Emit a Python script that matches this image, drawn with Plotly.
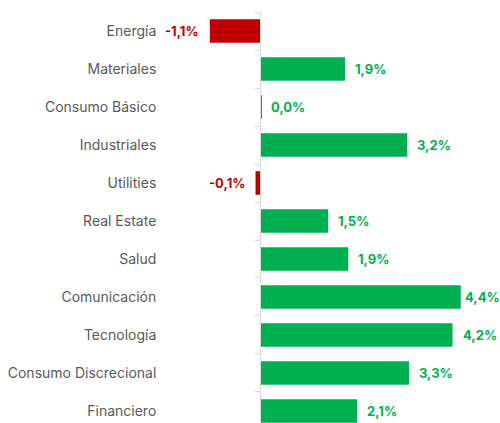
import plotly.graph_objects as go

categories = ["Energía", "Materiales", "Consumo Básico", "Industriales", "Utilities",
              "Real Estate", "Salud", "Comunicación", "Tecnología",
              "Consumo Discrecional", "Financiero"]
values = [-1.10, 1.86, 0.03, 3.22, -0.10, 1.49, 1.93, 4.39, 4.21, 3.26, 2.12]

GREEN = "#00B050"
RED = "#C00000"
colors = [GREEN if v >= 0 else RED for v in values]

x_range = [-2.19, 5.03]
zero_pos = (0 - x_range[0]) / (x_range[1] - x_range[0])

fig = go.Figure()
fig.add_trace(go.Bar(
    x=values, y=categories, orientation="h",
    marker=dict(color=colors, line=dict(width=0)),
    hoverinfo="skip", showlegend=False,
))

vmax = max(values)
annotations = []
for c, v, col in zip(categories, values, colors):
    txt = f"{v:.1f}".replace(".", ",") + "%"
    if v >= 0:
        shift = 3 if v == vmax else 9
    else:
        shift = -10
    annotations.append(dict(
        x=v, y=c, xref="x", yref="y", text=f"<b>{txt}</b>",
        showarrow=False, xanchor="left" if v >= 0 else "right",
        xshift=shift, borderpad=0,
        font=dict(family="Inter", size=13, color=col),
    ))

fig.update_layout(
    width=500, height=423,
    margin=dict(l=160, r=10, t=12, b=0),
    paper_bgcolor="white", plot_bgcolor="white",
    bargap=0.38,
    font=dict(family="Inter", size=14, color="#595959"),
    annotations=annotations,
    xaxis=dict(range=x_range, visible=False, showgrid=False, zeroline=False),
    yaxis=dict(
        type="category", categoryorder="array", categoryarray=categories,
        range=[10.316, -0.5], anchor="free", position=zero_pos,
        showline=True, linecolor="#D9D9D9", linewidth=1,
        ticks="outside", tickson="boundaries", ticklen=5, tickcolor="#D9D9D9",
        ticklabelstandoff=101, showgrid=False, zeroline=False,
        tickfont=dict(family="Inter", size=14, color="#595959"),
        automargin=False,
    ),
)

fig.write_html("out.html", config={"displayModeBar": False},
               post_script="document.body.style.margin='0';")
